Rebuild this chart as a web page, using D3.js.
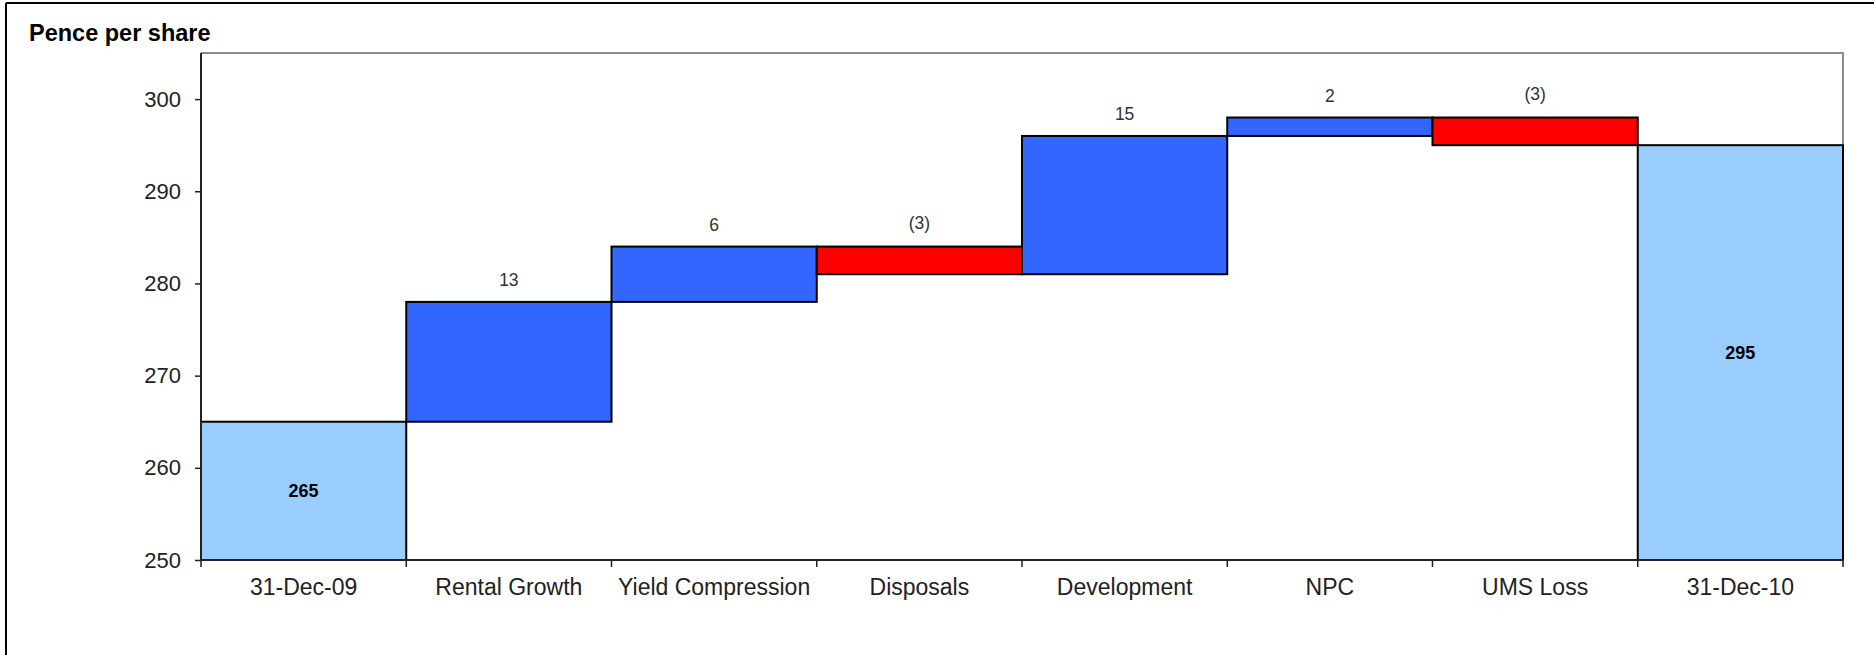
<!DOCTYPE html>
<html>
<head>
<meta charset="utf-8">
<script src="https://cdn.jsdelivr.net/npm/d3@7"></script>
<style>
  html, body { margin: 0; padding: 0; background: #fff; }
  svg { display: block; font-family: "Liberation Sans", Arial, sans-serif; }
</style>
</head>
<body>
<div id="chart"></div>
<script>
// data
const categories = ["31-Dec-09", "Rental Growth", "Yield Compression", "Disposals", "Development", "NPC", "UMS Loss", "31-Dec-10"];
const openingValue = 265;
const closingValue = 295;
const changes = [13, 6, -3, 15, 2, -3];
const yTicks = [250, 260, 270, 280, 290, 300];

function drawChart() {
  const width = 1874;
  const height = 655;
  const plot = { left: 201, right: 1843, top: 53, bottom: 560 };

  // build the waterfall steps
  const steps = [];
  steps.push({ cat: categories[0], lo: 250, hi: openingValue, kind: "total", label: String(openingValue) });
  let running = openingValue;
  changes.forEach((c, i) => {
    const next = running + c;
    steps.push({
      cat: categories[i + 1],
      lo: Math.min(running, next),
      hi: Math.max(running, next),
      kind: c >= 0 ? "up" : "down",
      label: c >= 0 ? String(c) : "(" + Math.abs(c) + ")"
    });
    running = next;
  });
  steps.push({ cat: categories[categories.length - 1], lo: 250, hi: closingValue, kind: "total", label: String(closingValue) });

  const colors = { total: "#99CCFF", up: "#3366FF", down: "#FF0000" };

  const x = d3.scaleBand().domain(categories).range([plot.left, plot.right]).padding(0);
  const y = d3.scaleLinear().domain([250, 305]).range([plot.bottom, plot.top]);

  const svg = d3.select("#chart").append("svg")
    .attr("width", width)
    .attr("height", height);

  // outer frame (left and top edges only visible)
  svg.append("line").attr("x1", 6).attr("x2", 6).attr("y1", 3).attr("y2", height)
    .attr("stroke", "#000").attr("stroke-width", 2);
  svg.append("line").attr("x1", 6).attr("x2", width).attr("y1", 3).attr("y2", 3)
    .attr("stroke", "#000").attr("stroke-width", 2);

  // title
  svg.append("text")
    .attr("x", 29).attr("y", 41)
    .attr("font-size", 23.5).attr("font-weight", "bold").attr("fill", "#000")
    .text("Pence per share");

  // plot area border (grey top and right)
  svg.append("path")
    .attr("d", `M${plot.left},${plot.top}H${plot.right}V${plot.bottom}`)
    .attr("fill", "none").attr("stroke", "#8c8c8c").attr("stroke-width", 2);

  // bars
  svg.append("g").selectAll("rect")
    .data(steps)
    .join("rect")
    .attr("x", d => x(d.cat))
    .attr("y", d => y(d.hi))
    .attr("width", x.bandwidth())
    .attr("height", d => y(d.lo) - y(d.hi))
    .attr("fill", d => colors[d.kind])
    .attr("stroke", "#000")
    .attr("stroke-width", 2);

  // value labels
  svg.append("g").selectAll("text")
    .data(steps)
    .join("text")
    .attr("x", d => x(d.cat) + x.bandwidth() / 2)
    .attr("y", d => d.kind === "total" ? (y(d.hi) + y(d.lo)) / 2 + 6.5 : y(d.hi) - (d.kind === "down" ? 17.5 : 16))
    .attr("text-anchor", "middle")
    .attr("font-size", d => d.kind === "total" ? 18 : 17.5)
    .attr("font-weight", d => d.kind === "total" ? "bold" : "normal")
    .attr("fill", d => d.kind === "total" ? "#000" : "#333")
    .text(d => d.label);

  // y axis
  const yAxis = svg.append("g")
    .attr("transform", `translate(${plot.left},0)`)
    .call(d3.axisLeft(y).tickValues(yTicks).tickSize(6).tickPadding(14).tickFormat(d3.format("d")));
  yAxis.select(".domain").attr("d", `M0,${plot.top}V${plot.bottom}`).attr("stroke", "#222").attr("stroke-width", 2);
  yAxis.selectAll(".tick line").attr("stroke", "#222").attr("stroke-width", 1.5);
  yAxis.selectAll(".tick text")
    .attr("font-size", 22).attr("fill", "#222")
    .attr("font-family", "'Liberation Sans', Arial, sans-serif");

  // x axis: ticks on band edges, labels centred in bands
  const xg = svg.append("g").attr("transform", `translate(0,${plot.bottom})`);
  xg.append("line")
    .attr("x1", plot.left).attr("x2", plot.right)
    .attr("stroke", "#222").attr("stroke-width", 2);
  const edges = categories.map(c => x(c)).concat([x(categories[categories.length - 1]) + x.bandwidth()]);
  xg.selectAll("line.edge")
    .data(edges)
    .join("line")
    .attr("class", "edge")
    .attr("x1", d => d).attr("x2", d => d)
    .attr("y1", 0).attr("y2", 7)
    .attr("stroke", "#222").attr("stroke-width", 1.5);
  xg.selectAll("text")
    .data(categories)
    .join("text")
    .attr("x", d => x(d) + x.bandwidth() / 2)
    .attr("y", 35)
    .attr("text-anchor", "middle")
    .attr("font-size", 23)
    .attr("fill", "#222")
    .text(d => d);
}

drawChart();
</script>
</body>
</html>
